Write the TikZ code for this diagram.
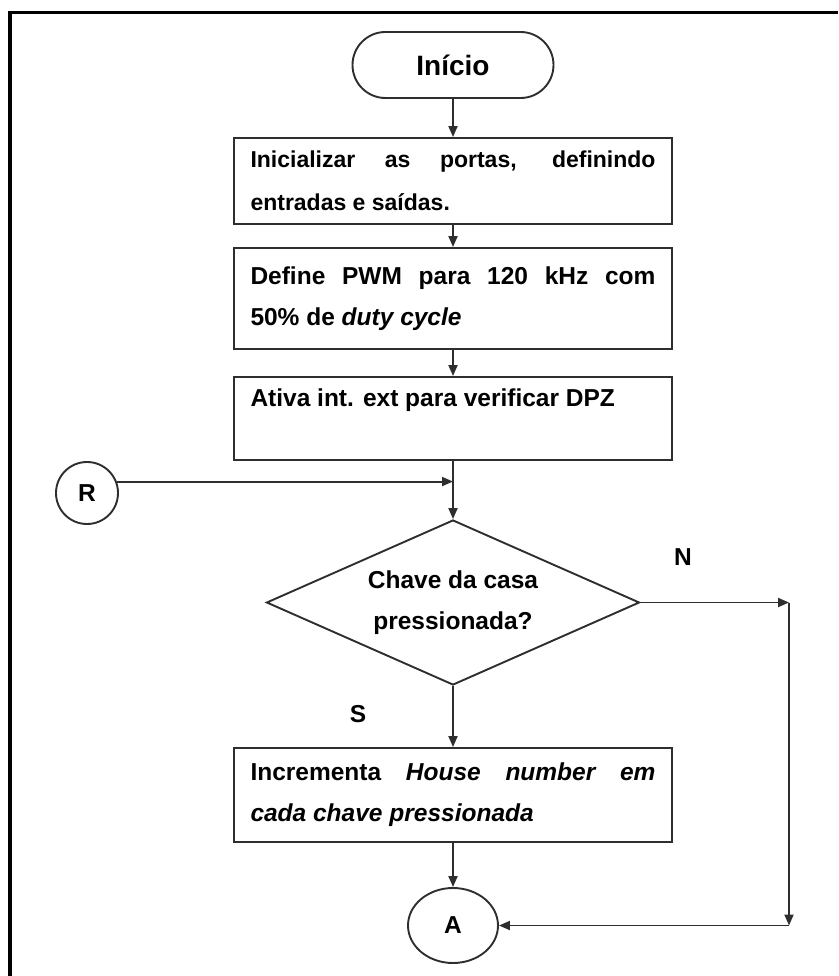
\documentclass[tikz,border=0pt]{standalone}
\usepackage{fontspec}
\setmainfont{Liberation Sans}
\usetikzlibrary{arrows.meta,shapes.geometric}
\begin{document}
\begin{tikzpicture}[x=1pt,y=-1pt,
  line/.style={draw=black!82, line width=1.9pt},
  arr/.style={line, -{Triangle[length=11pt,width=9pt]}},
  txt/.style={font=\fontsize{24.5}{41}\selectfont\bfseries, text=black},
  procbox/.style={line, rectangle, minimum width=438pt, text width=405pt,
    inner xsep=16.5pt, inner ysep=0pt, align=justify, txt},
  startbox/.style={line, rectangle, rounded corners=33pt, minimum width=201pt,
    minimum height=66pt, inner sep=0pt, font=\fontsize{28}{32}\selectfont\bfseries},
  decision/.style={line, diamond, aspect=2.26, minimum width=373pt,
    minimum height=165pt, inner sep=0pt, align=center, txt},
  connector/.style={line, circle, minimum size=62pt, inner sep=0pt, txt},
  label/.style={inner sep=0pt, txt}
]
\useasboundingbox (0,0) rectangle (838,976);

% outer frame (top and left edges)
\draw[line width=3.5pt, black] (10,976) -- (10,12.5) -- (838,12.5);

% flow nodes
\node[startbox] (inicio) at (453,65) {Início};
\node[procbox, minimum height=86pt, font=\fontsize{23}{43}\selectfont\bfseries] (b1) at (453,181)
  {Inicializar as portas, definindo\linebreak entradas e saídas.};
\node[procbox, minimum height=101pt] (b2) at (453,298.5)
  {Define PWM para 120 kHz com\linebreak 50\% de \textit{duty cycle}};
\node[procbox, minimum height=83pt] (b3) at (453,418.5)
  {Ativa int. ext para verificar DPZ\\ \mbox{}};
\node[decision] (d) at (453,602.5) {Chave da casa\\pressionada?};
\node[procbox, minimum height=94pt] (b4) at (453,795)
  {Incrementa \textit{House number em}\linebreak \textit{cada chave pressionada}};
\node[connector] (R) at (87,493) {R};
\node[line, ellipse, minimum width=90pt, minimum height=75pt, inner sep=0pt, txt] (A) at (453,925.5) {A};

% branch labels
\node[label] (lblN) at (683,557) {N};
\node[label] (lblS) at (358,714) {S};

% connectors
\draw[arr] (inicio) -- (b1);
\draw[arr] (b1) -- (b2);
\draw[arr] (b2) -- (b3);
\draw[arr] (b3) -- (d);
\draw[arr] (R.21) -- (R.21 -| b3.south);
\draw[arr] (d) -- (b4);
\draw[arr] (b4) -- (A);
\coordinate (ne) at (789,602.5);
\coordinate (se) at (ne |- A);
\draw[arr] (d.east) -- (ne);
\draw[arr] (ne) -- (se);
\draw[arr] (se) -- (A.east);
\end{tikzpicture}
\end{document}
